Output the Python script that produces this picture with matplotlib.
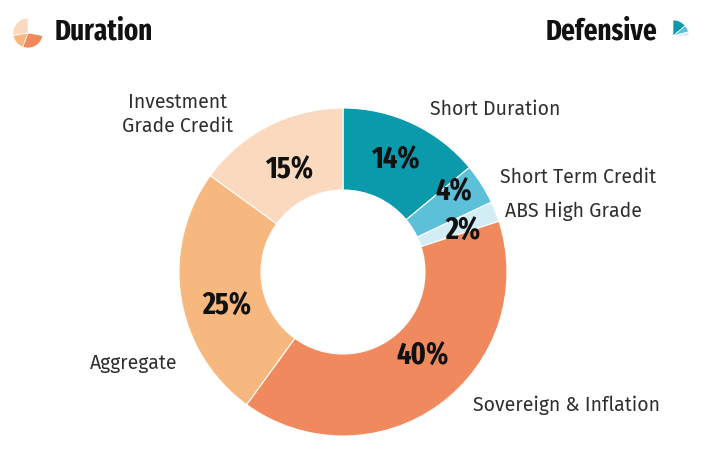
import matplotlib
matplotlib.use("Agg")
import numpy as np
import matplotlib.pyplot as plt
from matplotlib.patches import Wedge

categories = ["Short Duration", "Short Term Credit", "ABS High Grade",
              "Sovereign & Inflation", "Aggregate", "Investment\nGrade Credit"]
values = [14, 4, 2, 40, 25, 15]
colors = ["#0a9aab", "#5cc0d9", "#d3edf6", "#f08a5e", "#f6b87f", "#fbd9bf"]
title_left = "Duration"
title_right = "Defensive"

BOLD = ["Fira Sans Extra Condensed", "DejaVu Sans"]
LABEL = ["Fira Sans", "DejaVu Sans"]

W, H = 725, 461
fig = plt.figure(figsize=(W / 100, H / 100), dpi=100)
ax = fig.add_axes([0, 0, 1, 1])

def py(y):
    return H - y

cx, cy, R = 343, py(272), 164
wedges, _ = ax.pie(
    values, colors=colors, startangle=90, counterclock=False,
    center=(cx, cy), radius=R, frame=True,
    wedgeprops=dict(width=R * 0.5, edgecolor="white", linewidth=0.8))
ax.set_xlim(0, W)
ax.set_ylim(0, H)
ax.axis("off")
ax.set_aspect("equal")

# percentage labels: placed at each wedge's mid-angle with small nudges
ang_nudge = [0, 3.3, -3, 7.3, 7.8, 1]
rad_frac = [0.75, 0.83, 0.77, 0.71, 0.74, 0.70]
for w, v, dn, rf in zip(wedges, values, ang_nudge, rad_frac):
    mid = np.deg2rad((w.theta1 + w.theta2) / 2 + dn)
    ax.text(cx + rf * R * np.cos(mid), cy + rf * R * np.sin(mid), f"{v}%",
            ha="center", va="center", family=BOLD, fontweight="bold",
            fontsize=22, color="#111111")

label_pos = [(495, 109), (578, 177), (573, 211), (567, 405), (134, 363), (178, 114)]
for lab, (x, y) in zip(categories, label_pos):
    ax.text(x, py(y), lab, ha="center", va="center", fontsize=14,
            family=LABEL, fontweight="normal", color="#2e2e2e", linespacing=1.3)

ax.text(55, py(32), title_left, ha="left", va="center", fontsize=21,
        fontweight="bold", family=BOLD, color="#111111")
ax.text(657, py(32), title_right, ha="right", va="center", fontsize=21,
        fontweight="bold", family=BOLD, color="#111111")

# small icons
icx, icy, ir = 28, py(33), 15
for (a1, a2), c in zip([(90, 190), (190, 250), (250, 350)], [colors[5], colors[4], colors[3]]):
    ax.add_patch(Wedge((icx, icy), ir, a1, a2, facecolor=c, edgecolor="white", lw=0.5))
jcx, jcy, jr = 673, py(36), 16
for (a1, a2), c in zip([(40, 90), (15, 40), (0, 15)], [colors[0], colors[1], colors[2]]):
    ax.add_patch(Wedge((jcx, jcy), jr, a1, a2, facecolor=c, edgecolor="white", lw=0.5))

fig.savefig("out.png", dpi=100, facecolor="white")
